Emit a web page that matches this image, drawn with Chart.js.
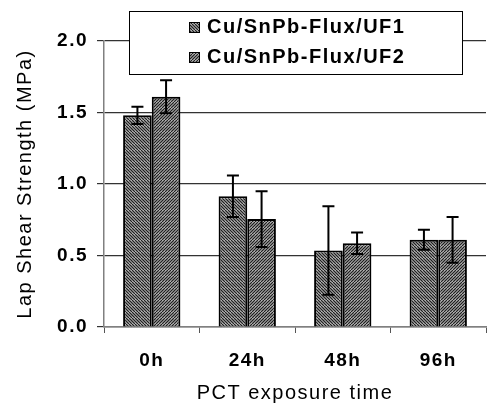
<!DOCTYPE html>
<html>
<head>
<meta charset="utf-8">
<script src="https://cdn.jsdelivr.net/npm/chart.js@4/dist/chart.umd.min.js"></script>
<style>
	html, body { margin: 0; padding: 0; background: #fff; }
	#wrap { width: 487px; height: 407px; position: relative; }
</style>
</head>
<body>
<div id="wrap"><canvas id="chart1" width="487" height="407"></canvas></div>
<script>
'use strict';

const labels_chart = ['0h', '24h', '48h', '96h'];
const series_names = ['Cu/SnPb-Flux/UF1', 'Cu/SnPb-Flux/UF2'];
const uf1_values = [1.48, 0.915, 0.535, 0.61];
const uf2_values = [1.61, 0.755, 0.585, 0.61];
const uf1_errors = [0.06, 0.145, 0.31, 0.07];
const uf2_errors = [0.115, 0.195, 0.075, 0.16];
const y_ticks = [0, 0.5, 1.0, 1.5, 2.0];

// hatch patterns
const makePattern = (dir) => {
	const c = document.createElement('canvas');
	c.width = 6; c.height = 6;
	const g = c.getContext('2d');
	g.fillStyle = '#d8d8d8';
	g.fillRect(0, 0, 6, 6);
	g.strokeStyle = '#202020';
	g.lineWidth = 1.3;
	g.beginPath();
	for (let k = -6; k <= 12; k += 3) {
		if (dir > 0) { g.moveTo(k, 6); g.lineTo(k + 6, 0); }
		else { g.moveTo(k, 0); g.lineTo(k + 6, 6); }
	}
	g.stroke();
	return g.createPattern(c, 'repeat');
};

const ctx = document.querySelector('#chart1').getContext('2d');
ctx.letterSpacing = '1.5px';
const pat1 = makePattern(-1);
const pat2 = makePattern(1);

const spacing = {
	id: 'spacing',
	beforeDraw(chart) { chart.ctx.letterSpacing = '1.5px'; }
};

const errorBars = {
	id: 'errorBars',
	afterDatasetsDraw(chart) {
		const c = chart.ctx;
		const ys = chart.scales.y;
		const errs = [uf1_errors, uf2_errors];
		c.save();
		c.strokeStyle = '#000';
		c.lineWidth = 2;
		chart.data.datasets.forEach((ds, i) => {
			chart.getDatasetMeta(i).data.forEach((bar, j) => {
				const v = ds.data[j];
				const top = ys.getPixelForValue(v + errs[i][j]);
				const bot = ys.getPixelForValue(v - errs[i][j]);
				c.beginPath();
				c.moveTo(bar.x, top); c.lineTo(bar.x, bot);
				c.moveTo(bar.x - 6, top); c.lineTo(bar.x + 6, top);
				c.moveTo(bar.x - 6, bot); c.lineTo(bar.x + 6, bot);
				c.stroke();
			});
		});
		c.restore();
	}
};

const boxLegend = {
	id: 'boxLegend',
	afterDraw(chart) {
		const c = chart.ctx;
		c.save();
		c.fillStyle = '#fff';
		c.fillRect(129, 11, 333, 63);
		c.strokeStyle = '#000';
		c.lineWidth = 1;
		c.strokeRect(129.5, 11.5, 333, 63);
		const pats = [pat1, pat2];
		c.font = 'bold 20px "Liberation Sans", Arial, sans-serif';
		c.textBaseline = 'alphabetic';
		series_names.forEach((name, i) => {
			const y = 33 + i * 30;
			c.fillStyle = pats[i];
			c.fillRect(189, y - 11, 11, 11);
			c.strokeStyle = '#000';
			c.strokeRect(189.5, y - 10.5, 10, 10);
			c.fillStyle = '#000';
			c.fillText(name, 207, y);
		});
		c.restore();
	}
};

new Chart(ctx, {
	type: 'bar',
	data: {
		labels: labels_chart,
		datasets: [
			{ label: series_names[0], data: uf1_values, backgroundColor: pat1, borderColor: '#000', borderWidth: 2, borderSkipped: 'bottom' },
			{ label: series_names[1], data: uf2_values, backgroundColor: pat2, borderColor: '#000', borderWidth: 2, borderSkipped: 'bottom' }
		]
	},
	options: {
		responsive: false,
		animation: false,
		layout: { padding: { top: 41, right: 1, left: 0, bottom: 0 } },
		datasets: { bar: { categoryPercentage: 0.6, barPercentage: 1 } },
		plugins: {
			legend: { display: false },
			tooltip: { enabled: false }
		},
		scales: {
			x: {
				grid: { offset: true, drawOnChartArea: false, drawTicks: true, tickLength: 6, color: '#555' },
				border: { color: '#808080', width: 1.5 },
				ticks: { color: '#000', padding: 16, font: { family: 'Liberation Sans', size: 19, weight: 'bold' } },
				title: { display: true, text: 'PCT exposure time', color: '#000', padding: { top: 4, bottom: 2 }, font: { family: 'Liberation Sans', size: 20 } },
				afterFit: (s) => { s.height = 80; }
			},
			y: {
				min: 0, max: 2,
				afterBuildTicks: (s) => { s.ticks = y_ticks.map(v => ({ value: v })); },
				grid: { color: '#333', tickLength: 7, lineWidth: 1.2 },
				border: { color: '#808080', width: 1.5 },
				ticks: { color: '#000', padding: 9, callback: (v) => Number(v).toFixed(1), font: { family: 'Liberation Sans', size: 19, weight: 'bold' } },
				title: { display: true, text: 'Lap Shear Strength (MPa)', color: '#000', padding: { top: 13 }, font: { family: 'Liberation Sans', size: 20 } },
				afterFit: (s) => { s.width = 104; }
			}
		}
	},
	plugins: [spacing, errorBars, boxLegend]
});
</script>
</body>
</html>
